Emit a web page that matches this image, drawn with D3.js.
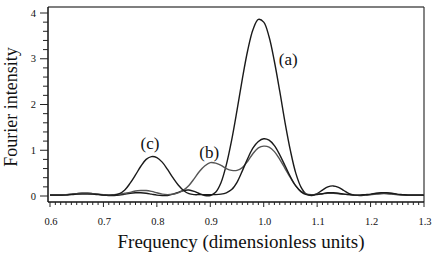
<!DOCTYPE html>
<html><head><meta charset="utf-8">
<script src="https://cdn.jsdelivr.net/npm/d3@7"></script>
<style>
html,body{margin:0;padding:0;background:#fff;}
svg{display:block;}
text{font-family:"Liberation Serif","Times New Roman","DejaVu Serif",serif;fill:#111;}
</style></head>
<body>
<svg id="chart" width="436" height="255"></svg>
<script>
const freq = [0.60,0.61,0.62,0.63,0.64,0.65,0.66,0.67,0.68,0.69,
0.70,0.71,0.72,0.73,0.74,0.75,0.76,0.77,0.78,0.79,
0.80,0.81,0.82,0.83,0.84,0.85,0.86,0.87,0.88,0.89,
0.90,0.91,0.92,0.93,0.94,0.95,0.96,0.97,0.98,0.99,
1.00,1.01,1.02,1.03,1.04,1.05,1.06,1.07,1.08,1.09,
1.10,1.11,1.12,1.13,1.14,1.15,1.16,1.17,1.18,1.19,
1.20,1.21,1.22,1.23,1.24,1.25,1.26,1.27,1.28,1.29,1.30];

const seriesA = [0.02,0.02,0.02,0.03,0.04,0.05,0.06,0.06,0.05,0.04,
0.02,0.01,0.01,0.02,0.04,0.06,0.07,0.07,0.06,0.04,
0.02,0.01,0.01,0.04,0.08,0.12,0.13,0.10,0.05,0.01,
0.01,0.08,0.29,0.68,1.22,1.87,2.56,3.18,3.64,3.86,
3.80,3.48,2.94,2.29,1.60,0.99,0.50,0.19,0.04,0.01,
0.05,0.13,0.20,0.22,0.19,0.12,0.05,0.02,0.01,0.02,
0.03,0.05,0.06,0.06,0.05,0.03,0.02,0.02,0.02,0.02,0.02];

const seriesB = [0.03,0.03,0.03,0.03,0.04,0.05,0.06,0.06,0.05,0.04,
0.03,0.02,0.03,0.04,0.06,0.08,0.11,0.12,0.12,0.10,
0.07,0.04,0.03,0.04,0.07,0.13,0.23,0.38,0.54,0.66,
0.73,0.72,0.67,0.60,0.56,0.56,0.62,0.76,0.93,1.05,
1.09,1.07,0.97,0.80,0.60,0.40,0.22,0.10,0.04,0.03,
0.04,0.05,0.06,0.06,0.05,0.04,0.03,0.02,0.02,0.03,
0.03,0.04,0.05,0.05,0.04,0.03,0.03,0.03,0.03,0.03,0.03];

const seriesC = [0.02,0.02,0.02,0.02,0.03,0.04,0.04,0.04,0.04,0.03,
0.02,0.02,0.02,0.05,0.13,0.28,0.46,0.65,0.80,0.86,
0.84,0.74,0.58,0.40,0.24,0.12,0.05,0.03,0.03,0.03,
0.03,0.03,0.04,0.07,0.14,0.30,0.55,0.82,1.05,1.19,
1.25,1.22,1.10,0.90,0.66,0.42,0.22,0.09,0.03,0.02,
0.03,0.05,0.07,0.07,0.06,0.04,0.03,0.02,0.02,0.03,
0.04,0.06,0.07,0.07,0.06,0.04,0.03,0.02,0.02,0.02,0.02];

const seriesLabels = ["(a)","(b)","(c)"];
const xTickLabels = [0.6,0.7,0.8,0.9,1.0,1.1,1.2,1.3];
const yTickLabels = [0,1,2,3,4];
const xTitle = "Frequency (dimensionless units)";
const yTitle = "Fourier intensity";

(function(){
const svg = d3.select("#chart");
const L = 48, R = 424, T = 7, B = 202;

const x = d3.scaleLinear().domain([0.6,1.3]).range([50,424]);
const y = d3.scaleLinear().domain([0,4]).range([196,13]);

// frame (top & right)
svg.append("line").attr("x1",L).attr("x2",R).attr("y1",T).attr("y2",T)
  .attr("stroke","#555").attr("stroke-width",1.5);
svg.append("line").attr("x1",R).attr("x2",R).attr("y1",T).attr("y2",B)
  .attr("stroke","#333").attr("stroke-width",1.2);

// x axis
const xMinor = d3.range(60,131).map(d=>d/100);
const gx = svg.append("g");
gx.append("line").attr("x1",L).attr("x2",R).attr("y1",B).attr("y2",B)
  .attr("stroke","#111").attr("stroke-width",1.5);
gx.selectAll("line.minor").data(xMinor).enter().append("line")
  .attr("class","minor")
  .attr("x1",d=>x(d)).attr("x2",d=>x(d))
  .attr("y1",B).attr("y2",d=> (Math.round(d*100)%10===0)?207:205)
  .attr("stroke","#222").attr("stroke-width",1);
gx.selectAll("text").data(xTickLabels).enter().append("text")
  .attr("x",d=>x(d)+1).attr("y",225).attr("text-anchor","middle")
  .attr("font-size",10.5).text(d=>d.toFixed(1));

// y axis
const yMinor = d3.range(0,21).map(d=>d/5);
const gy = svg.append("g");
gy.append("line").attr("x1",L).attr("x2",L).attr("y1",T).attr("y2",B)
  .attr("stroke","#111").attr("stroke-width",1.5);
gy.selectAll("line.minor").data(yMinor).enter().append("line")
  .attr("class","minor")
  .attr("x1",d=> (Math.abs(d-Math.round(d))<1e-6)?40:43).attr("x2",L)
  .attr("y1",d=>y(d)).attr("y2",d=>y(d))
  .attr("stroke","#222").attr("stroke-width",1);
gy.selectAll("text").data(yTickLabels).enter().append("text")
  .attr("x",36).attr("y",d=>y(d)+3.5).attr("text-anchor","end")
  .attr("font-size",10.5).text(d=>d);

// titles
svg.append("text").attr("x",241).attr("y",248).attr("text-anchor","middle")
  .attr("font-size",19).text(xTitle);
svg.append("text").attr("transform","translate(17,107) rotate(-90)")
  .attr("text-anchor","middle").attr("font-size",18).text(yTitle);

// curves
svg.append("clipPath").attr("id","clp").append("rect")
  .attr("x",L).attr("y",T).attr("width",R-L).attr("height",B-T);
const line = d3.line().x((d,i)=>x(freq[i])).y(d=>y(d)).curve(d3.curveCatmullRom.alpha(0.5));
const series = [
  {vals:seriesA, color:"#1a1a1a"},
  {vals:seriesB, color:"#555"},
  {vals:seriesC, color:"#1a1a1a"}
];
series.forEach(s=>{
  svg.append("path").datum(s.vals).attr("d",line).attr("fill","none")
    .attr("stroke",s.color).attr("stroke-width",1.4).attr("clip-path","url(#clp)");
});

// series labels
const labelPos = [[1.046,3.0],[0.898,0.97],[0.787,1.15]];
seriesLabels.forEach((t,i)=>{
  svg.append("text").attr("x",x(labelPos[i][0])).attr("y",y(labelPos[i][1])+6)
    .attr("text-anchor","middle").attr("font-size",17).text(t);
});
})();
</script>
</body></html>
